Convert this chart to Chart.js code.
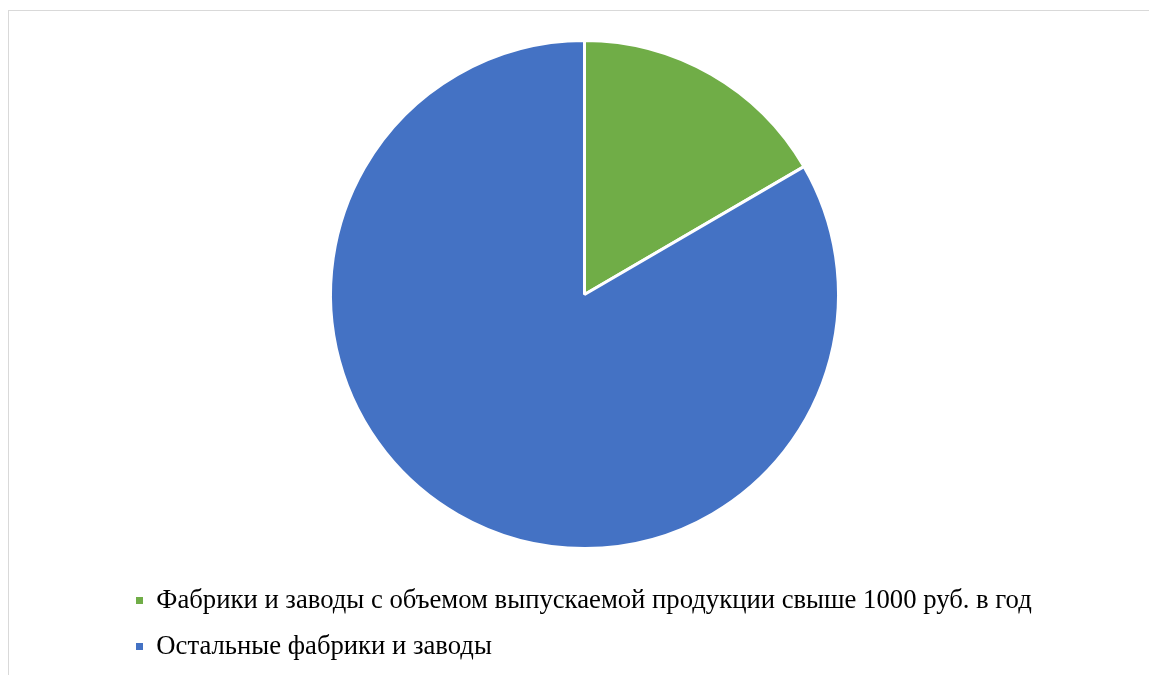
<!DOCTYPE html>
<html lang="ru">
<head>
<meta charset="utf-8">
<title>Фабрики и заводы</title>
<script src="https://cdn.jsdelivr.net/npm/chart.js@4/dist/chart.umd.min.js"></script>
<style>
    html, body {
        margin: 0;
        padding: 0;
        background: #ffffff;
        overflow: hidden;
    }
    #chartBox {
        position: absolute;
        left: 8px;
        top: 10px;
        width: 1151px;
        height: 664px;
        border: 1px solid #d9d9d9;
        background: #ffffff;
    }
</style>
</head>
<body>
<div id="chartBox">
    <canvas id="shareChart"></canvas>
</div>
<script>
// Chart data
const categories = [
    'Фабрики и заводы с объемом выпускаемой продукции свыше 1000 руб. в год',
    'Остальные фабрики и заводы'
];
const shareValues = [16.6, 83.4];
const sliceColors = ['#70AD47', '#4472C4'];

let shareChart;

document.addEventListener('DOMContentLoaded', function() {
    initializeShareChart();
});

function initializeShareChart() {
    const ctx = document.getElementById('shareChart').getContext('2d');

    shareChart = new Chart(ctx, {
        type: 'pie',
        data: {
            labels: categories,
            datasets: [{
                data: shareValues,
                backgroundColor: sliceColors,
                borderColor: '#ffffff',
                borderWidth: 3,
                hoverOffset: 0
            }]
        },
        options: {
            responsive: true,
            maintainAspectRatio: false,
            animation: false,
            radius: 254,
            layout: {
                padding: { left: 107.7, right: 107.7, top: 10.15, bottom: 5.15 }
            },
            plugins: {
                legend: {
                    position: 'bottom',
                    align: 'start',
                    labels: {
                        boxWidth: 7,
                        boxHeight: 7,
                        padding: 19.3,
                        color: '#000000',
                        font: {
                            family: '"Liberation Serif", "Times New Roman", serif',
                            size: 26.7
                        },
                        generateLabels: function(chart) {
                            const items = Chart.overrides.pie.plugins.legend.labels.generateLabels(chart);
                            items.forEach(function(item) {
                                item.lineWidth = 0;
                            });
                            return items;
                        }
                    }
                },
                tooltip: {
                    enabled: false
                }
            }
        }
    });
}
</script>
</body>
</html>
